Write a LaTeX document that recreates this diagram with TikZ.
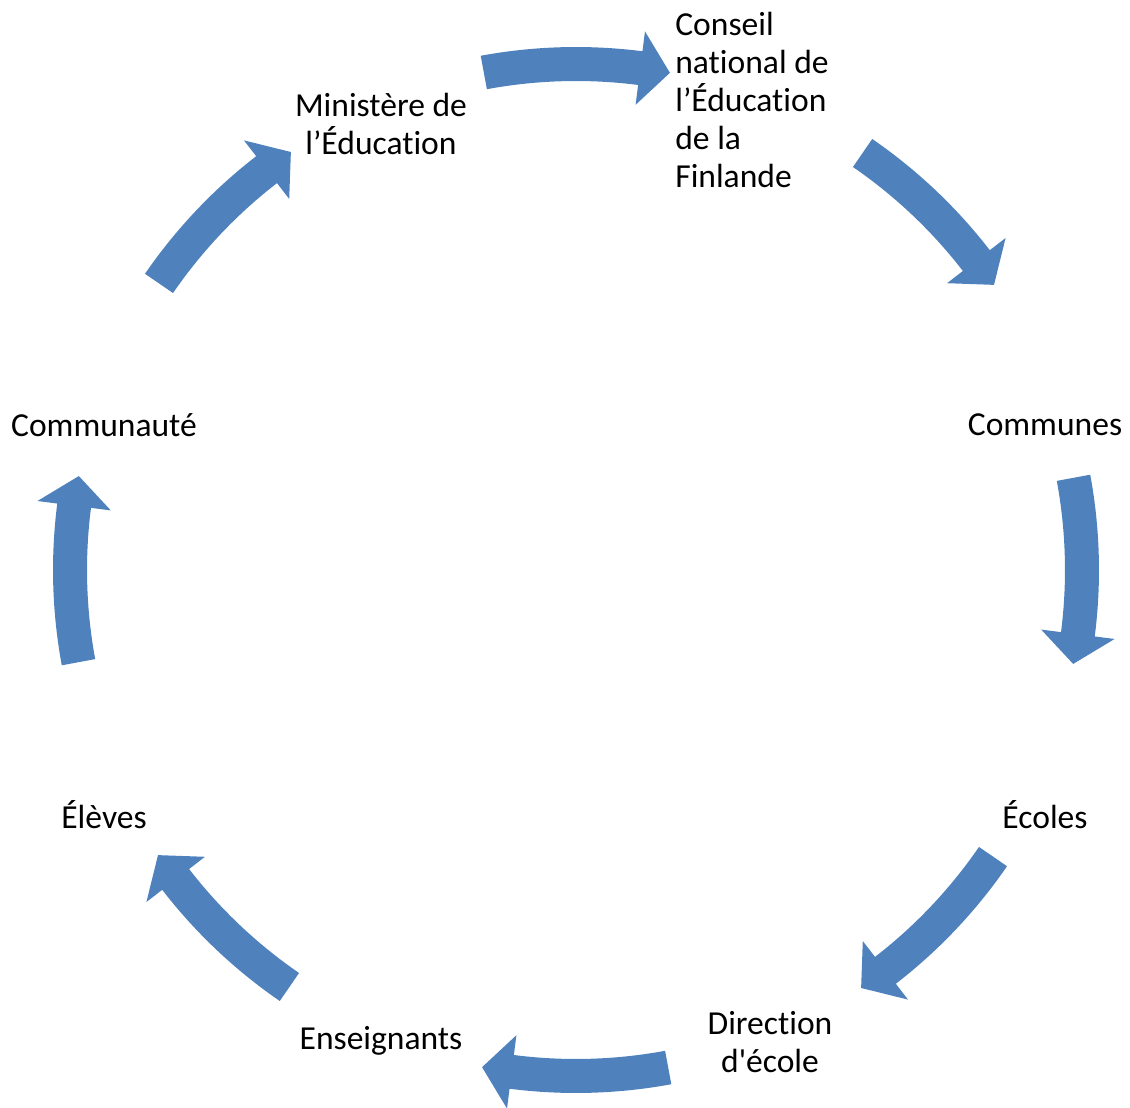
\documentclass[tikz,border=0pt]{standalone}
\usepackage{fontspec}
\setmainfont{Carlito}[Ligatures={TeXOff,NoCommon}]
\usepackage{tikz}

\definecolor{cycleblue}{HTML}{4F81BD}

\tikzset{
  actor/.style={font=\fontsize{19.1}{21.5}\selectfont, align=center, inner sep=0pt},
  cyclearrow/.style={fill=cycleblue, draw=none}
}

\begin{document}
\begin{tikzpicture}[x=0.02cm, y=0.02cm]
  \useasboundingbox (0,0) rectangle (1130,1107);

  \node[actor] (ministere) at (381,983) {Ministère de\\l’Éducation};
  \node[actor, anchor=west, align=left] (conseil) at (675,1007) {Conseil\\national de\\l’Éducation\\de la\\Finlande};
  \node[actor] (communes) at (1045,682) {Communes};
  \node[actor] (ecoles) at (1045,292) {Écoles};
  \node[actor] (direction) at (770,65) {Direction\\d'école};
  \node[actor] (enseignants) at (381,66) {Enseignants};
  \node[actor] (eleves) at (104,292) {Élèves};
  \node[actor] (communaute) at (104,682) {Communauté};

  \begin{scope}[shift={(576,537)}]
    \foreach \a [evaluate=\a as \t using \a+10.5,
                 evaluate=\a as \b using \a-7.3,
                 evaluate=\a as \e using \a-10.7] in {90,45,0,-45,-90,-135,-180,-225}
      \fill[cyclearrow] (\t:523) arc[start angle=\t, end angle=\b, radius=523]
        -- (\b:543) -- (\e:506) -- (\b:469) -- (\b:489)
        arc[start angle=\b, end angle=\t, radius=489] -- cycle;
  \end{scope}
\end{tikzpicture}
\end{document}
